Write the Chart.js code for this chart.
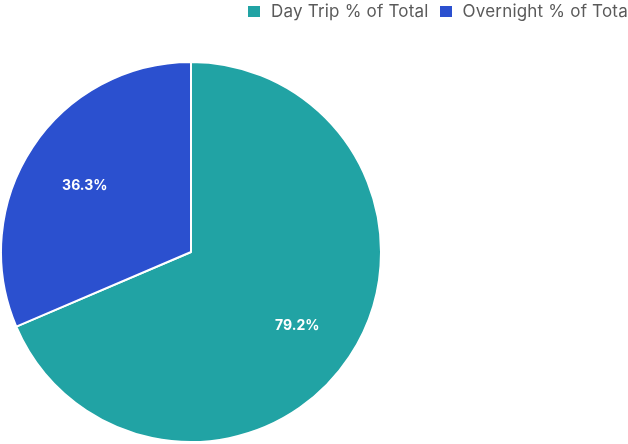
<!DOCTYPE html>
<html>
<head>
<meta charset="utf-8">
<script src="https://cdn.jsdelivr.net/npm/chart.js@4.4.0/dist/chart.umd.min.js"></script>
<style>
  html, body { margin:0; padding:0; background:#fff; overflow:hidden; }
  #wrap { position:relative; width:628px; height:444px; }
  #legend { position:absolute; left:248px; top:1px; white-space:nowrap; font-family:Inter, sans-serif; font-size:17px; letter-spacing:0.2px; color:#5a5a5a; }
  #legend span.item { display:inline-block; margin-right:11px; }
  #legend span.box { display:inline-block; width:12px; height:11px; margin-right:11px; vertical-align:0px; }
</style>
</head>
<body>
<div id="wrap">
  <canvas id="chart" width="628" height="444"></canvas>
  <div id="legend"></div>
</div>
<script>
// ==== Data ====
const labels = ['Day Trip % of Total', 'Overnight % of Total'];
const values = [79.2, 36.3];
const colors = ['#21a3a4', '#2b50cf'];

// ==== Legend (HTML, clipped at the right edge like the original) ====
const legend = document.getElementById('legend');
labels.forEach((l, i) => {
  const item = document.createElement('span');
  item.className = 'item';
  const box = document.createElement('span');
  box.className = 'box';
  box.style.background = colors[i];
  item.appendChild(box);
  item.appendChild(document.createTextNode(l));
  legend.appendChild(item);
});

// ==== Value labels inside the slices ====
const sliceLabels = {
  id: 'sliceLabels',
  afterDatasetsDraw(chart) {
    const c = chart.ctx;
    const meta = chart.getDatasetMeta(0);
    c.save();
    c.fillStyle = '#fff';
    c.font = 'bold 14px Inter, sans-serif';
    c.textAlign = 'center';
    c.textBaseline = 'middle';
    meta.data.forEach((arc, i) => {
      const p = arc.getProps(['x', 'y', 'startAngle', 'endAngle', 'outerRadius'], true);
      const mid = (p.startAngle + p.endAngle) / 2;
      const r = p.outerRadius * 0.67;
      c.fillText(values[i].toFixed(1) + '%', p.x + Math.cos(mid) * r, p.y + Math.sin(mid) * r + 4);
    });
    c.restore();
  }
};

const ctx = document.getElementById('chart').getContext('2d');
new Chart(ctx, {
  type: 'pie',
  data: {
    labels: labels,
    datasets: [{
      data: values,
      backgroundColor: colors,
      borderColor: '#fff',
      borderWidth: 2
    }]
  },
  options: {
    responsive: false,
    animation: false,
    layout: { padding: { top: 61, bottom: 1, left: 0, right: 246 } },
    plugins: { legend: { display: false }, tooltip: { enabled: false } }
  },
  plugins: [sliceLabels]
});
</script>
</body>
</html>
